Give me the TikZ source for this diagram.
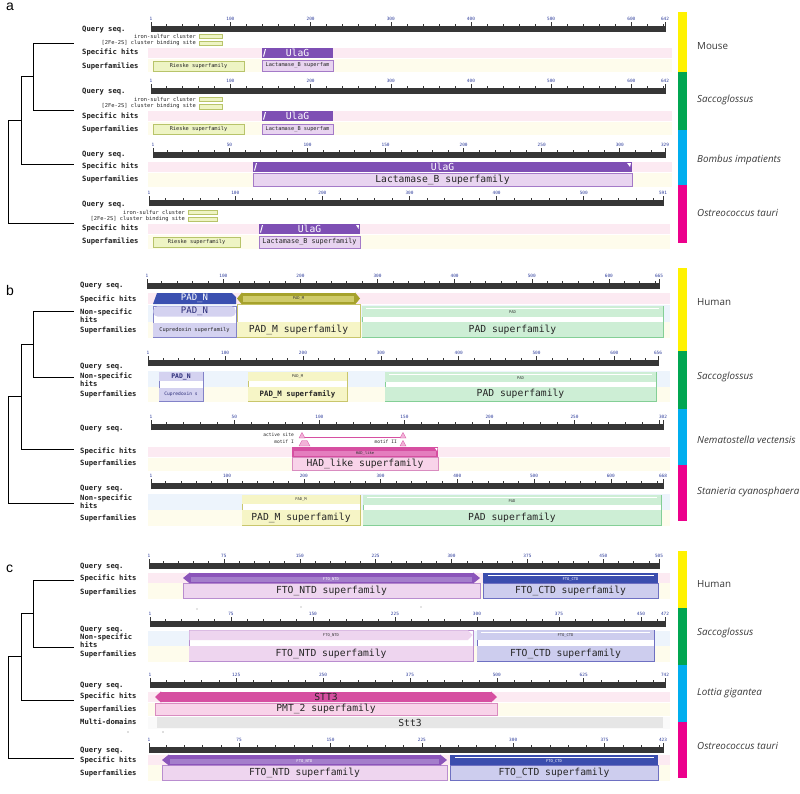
\documentclass[tikz,border=0pt]{standalone}
\usepackage{fontspec}
\setmainfont{Open Sans}
\newfontfamily\monof{DejaVu Sans Mono}
\newfontfamily\letf{Liberation Sans}
\usetikzlibrary{calc}
\newcommand{\mfs}[1]{\fontsize{#1}{#1}\selectfont}
\definecolor{rulerc}{HTML}{363636}
\definecolor{tickblue}{HTML}{2E3D9C}
\definecolor{spb}{HTML}{FCEAF2}
\definecolor{sfb}{HTML}{FEFCEC}
\definecolor{nsb}{HTML}{EDF4FC}
\definecolor{mdb}{HTML}{FAFAFA}
\definecolor{purp}{HTML}{7E4FB4}
\definecolor{purpL}{HTML}{E8D4F0}
\definecolor{purpD}{HTML}{A47AC8}
\definecolor{riesF}{HTML}{EEF4C4}
\definecolor{riesD}{HTML}{B8C46A}
\definecolor{padnB}{HTML}{3B50B0}
\definecolor{lavL}{HTML}{D4D2F0}
\definecolor{lavD}{HTML}{8282C8}
\definecolor{navyt}{HTML}{2A2C78}
\definecolor{oliv}{HTML}{A6A22C}
\definecolor{olivL}{HTML}{CFCB6A}
\definecolor{yelF}{HTML}{F6F5C6}
\definecolor{yelD}{HTML}{C9C66C}
\definecolor{grnF}{HTML}{CDEED5}
\definecolor{grnD}{HTML}{84CF96}
\definecolor{mag}{HTML}{D64FA1}
\definecolor{magM}{HTML}{E47DBE}
\definecolor{magL}{HTML}{F8D3E9}
\definecolor{magD}{HTML}{D98CC0}
\definecolor{ftoN}{HTML}{8B55BA}
\definecolor{ftoNM}{HTML}{A47ECB}
\definecolor{ftoNL}{HTML}{EED5EF}
\definecolor{ftoND}{HTML}{B98DCF}
\definecolor{ftoC}{HTML}{3B4DAE}
\definecolor{ftoCL}{HTML}{CDCDEE}
\definecolor{ftoCD}{HTML}{6E70C2}
\definecolor{grayF}{HTML}{E6E6E6}
\definecolor{pinkT}{HTML}{F2B2D8}
\definecolor{cYel}{HTML}{FFF200}
\definecolor{cGrn}{HTML}{00A651}
\definecolor{cBlu}{HTML}{00AEEF}
\definecolor{cMag}{HTML}{EC008C}
\tikzset{
  rowlab/.style={font={\monof\bfseries\mfs{7.2}}, anchor=west, inner sep=0pt, text=black!88},
  annot/.style={font={\monof\mfs{5.4}}, anchor=east, inner sep=0pt, text=black!85},
  tinylab/.style={font={\monof\mfs{5.3}}, inner sep=0pt, text=black!85},
  midlab/.style={font={\monof\mfs{6.8}}, inner sep=0pt, text=black!85},
  biglab/.style={font={\monof\mfs{9.7}}, inner sep=0pt, text=black!85},
  biglabw/.style={font={\monof\mfs{9.7}}, inner sep=0pt, text=white},
  microlab/.style={font={\monof\mfs{3.8}}, inner sep=0pt, text=black!80},
  microlabw/.style={font={\monof\mfs{3.8}}, inner sep=0pt, text=white},
  numlab/.style={font={\monof\mfs{4.4}}, text=tickblue, inner sep=0pt, anchor=south},
  species/.style={font={\mfs{9.8}}, anchor=west, inner sep=0pt, text=black!78},
  panellab/.style={font={\letf\mfs{14}}, anchor=north west, inner sep=0pt},
  treeln/.style={line width=0.9pt, black},
  mk/.style={fill=riesF, draw=riesD, line width=0.4pt},
  tri/.style={fill=pinkT, draw=mag, line width=0.3pt}
}
% ruler: y, x0, x1, len, minor step, name
\newcommand{\qruler}[6]{%
  \pgfmathsetmacro{\qrS}{(#3-#2)/(#4-1)}%
  \fill[rulerc] (#2,#1) rectangle (#3,#1+6);
  \draw[rulerc, line width=0.5pt] (#2,#1+6) -- (#2,#1-4.5);
  \node[numlab] at (#2,#1-5) {1};
  \pgfmathtruncatemacro{\qrN}{(#4-1)/#5}%
  \foreach \k in {1,...,\qrN}{%
    \pgfmathsetmacro{\qrX}{#2+(\k*#5-1)*\qrS}%
    \pgfmathtruncatemacro{\qrM}{mod(\k,5)}%
    \pgfmathtruncatemacro{\qrV}{\k*#5}%
    \pgfmathtruncatemacro{\qrF}{(#3-\qrX)<14}%
    \ifnum\qrM=0
      \draw[rulerc, line width=0.5pt] (\qrX,#1) -- (\qrX,#1-4.5);
      \ifnum\qrF=0 \node[numlab] at (\qrX,#1-5) {\qrV};\fi
    \else
      \draw[rulerc, line width=0.45pt] (\qrX,#1) -- (\qrX,#1-2.2);
    \fi
  }
  \draw[rulerc, line width=0.5pt] (#3,#1+6) -- (#3,#1-4.5);
  \node[numlab] (#6) at (#3,#1-5) {#4};
}
% box with label: name, x1,y1,x2,y2, box style, label style, text
\newcommand{\cbox}[8]{%
  \path[#6] (#2,#3) rectangle (#4,#5);
  \node[#7] (#1) at ({(#2+#4)/2},{(#3+#5)/2}) {#8};
}
% double arrow: x1,y1,x2,y2,colour,head
\newcommand{\darr}[6]{%
  \fill[#5] (#1,{(#2+#4)/2}) -- (#1+#6,#2-0.6) -- (#1+#6,#2) -- (#3-#6,#2) -- (#3-#6,#2-0.6) -- (#3,{(#2+#4)/2}) -- (#3-#6,#4+0.6) -- (#3-#6,#4) -- (#1+#6,#4) -- (#1+#6,#4+0.6) -- cycle;
}
\begin{document}
\begin{tikzpicture}[x=1pt,y=-1pt]
\useasboundingbox (0,0) rectangle (800,793);
\fill[white] (0,0) rectangle (800,793);

% ---------------- panel letters
\node[panellab] (pa) at (6,3) {a};
\node[panellab] (pb) at (6,285) {b};
\node[panellab] (pc) at (6,565) {c};

% ================= PANEL A
% --- Mouse
\fill[spb] (148,48) rectangle (672,57.5);
\fill[sfb] (148,58.5) rectangle (672,72);
\qruler{26}{151}{665}{642}{20}{rulA1}
\node[rowlab] (qA1) at (82,30) {Query seq.};
\node[rowlab] (sA1) at (82,52.5) {Specific hits};
\node[rowlab] (fA1) at (82,66) {Superfamilies};
\node[annot] (feA1) at (196,36) {iron-sulfur cluster};
\node[annot] (fsA1) at (196,43) {[2Fe-2S] cluster binding site};
\draw[mk] (199,34) rectangle (222,38.5);
\draw[mk] (199,41) rectangle (222,45.5);
\cbox{ulA1}{262}{48}{333}{57.5}{fill=purp}{biglabw}{UlaG}
\fill[white] (263,56.5) -- (265,49) -- (266,49) -- (264,56.5) -- cycle;
\cbox{laA1}{262}{60}{333}{71}{fill=purpL,draw=purpD,line width=0.6pt}{tinylab}{Lactamase\_B superfam}
\cbox{riA1}{153}{61}{244}{71}{fill=riesF,draw=riesD,line width=0.6pt}{tinylab}{Rieske superfamily}

% --- Saccoglossus (a)
\fill[spb] (148,111) rectangle (672,120.5);
\fill[sfb] (148,121.5) rectangle (672,135);
\qruler{88}{151}{665}{642}{20}{rulA2}
\node[rowlab] (qA2) at (82,92) {Query seq.};
\node[rowlab] (sA2) at (82,116) {Specific hits};
\node[rowlab] (fA2) at (82,129) {Superfamilies};
\node[annot] (feA2) at (196,99) {iron-sulfur cluster};
\node[annot] (fsA2) at (196,106.5) {[2Fe-2S] cluster binding site};
\draw[mk] (199,97) rectangle (222,101.5);
\draw[mk] (199,104.5) rectangle (222,109);
\cbox{ulA2}{262}{111}{333}{120.5}{fill=purp}{biglabw}{UlaG}
\fill[white] (263,119.5) -- (265,112) -- (266,112) -- (264,119.5) -- cycle;
\cbox{laA2}{262}{124}{333}{134}{fill=purpL,draw=purpD,line width=0.6pt}{tinylab}{Lactamase\_B superfam}
\cbox{riA2}{153}{124}{244}{134}{fill=riesF,draw=riesD,line width=0.6pt}{tinylab}{Rieske superfamily}

% --- Bombus
\fill[spb] (148,162) rectangle (672,171.5);
\fill[sfb] (148,172.5) rectangle (672,187);
\qruler{152}{153}{665}{329}{10}{rulA3}
\node[rowlab] (qA3) at (82,155) {Query seq.};
\node[rowlab] (sA3) at (82,166.5) {Specific hits};
\node[rowlab] (fA3) at (82,179) {Superfamilies};
\cbox{ulA3}{253}{162}{632}{171.5}{fill=purp}{biglabw}{UlaG}
\fill[white] (254,170.5) -- (256,163) -- (257,163) -- (255,170.5) -- cycle;
\fill[white] (627,163) -- (631,163) -- (630,167) -- cycle;
\cbox{laA3}{253}{173.5}{632}{186}{fill=purpL,draw=purpD,line width=0.6pt}{biglab}{Lactamase\_B superfamily}

% --- Ostreococcus (a)
\fill[spb] (148,224) rectangle (670,233.5);
\fill[sfb] (148,234.5) rectangle (670,249);
\qruler{200}{149}{663}{591}{20}{rulA4}
\node[rowlab] (qA4) at (82,205) {Query seq.};
\node[rowlab] (sA4) at (82,228.5) {Specific hits};
\node[rowlab] (fA4) at (82,241.5) {Superfamilies};
\node[annot] (feA4) at (185,212) {iron-sulfur cluster};
\node[annot] (fsA4) at (185,219) {[2Fe-2S] cluster binding site};
\draw[mk] (188,210) rectangle (217,214.5);
\draw[mk] (188,217) rectangle (217,221.5);
\cbox{ulA4}{259}{224}{360}{233.5}{fill=purp}{biglabw}{UlaG}
\fill[white] (260,232.5) -- (262,225) -- (263,225) -- (261,232.5) -- cycle;
\fill[white] (356,225) -- (359,225) -- (358.5,229) -- cycle;
\cbox{laA4}{259}{236}{360}{248}{fill=purpL,draw=purpD,line width=0.6pt}{midlab}{Lactamase\_B superfamily}
\cbox{riA4}{153}{237}{240}{247}{fill=riesF,draw=riesD,line width=0.6pt}{tinylab}{Rieske superfamily}

% ================= PANEL B
% --- Human (b)
\fill[spb] (148,293) rectangle (670,304);
\fill[nsb] (148,305) rectangle (670,322);
\fill[sfb] (148,322) rectangle (670,338);
\qruler{283}{147}{659}{665}{20}{rulB1}
\node[rowlab] (qB1) at (80,285.5) {Query seq.};
\node[rowlab] (sB1) at (80,299) {Specific hits};
\node[rowlab] (nB1) at (80,312) {Non-specific};
\node[rowlab] (hB1) at (80,319.5) {hits};
\node[rowlab] (fB1) at (80,330.5) {Superfamilies};
% cupredoxin column
\path[fill=white, draw=lavD, line width=0.6pt] (153,306) rectangle (236,337);
\fill[lavL] (153.4,323) rectangle (235.6,336.6);
\node[tinylab] (cuB1) at (194.5,330) {Cupredoxin superfamily};
\fill[lavL, rounded corners=4pt] (153.4,316.5) -- (153.4,306.4) -- (235.6,306.4) -- (235.6,316.5) -- cycle;
\node[font={\monof\mfs{9}}, inner sep=0pt, text=navyt] (pnB1) at (194.5,311.5) {PAD\_N};
\fill[padnB] (153,304) -- (157,293) -- (232,293) -- (236,297) -- (236,304) -- cycle;
\node[font={\monof\mfs{9}}, inner sep=0pt, text=white] (psB1) at (194.5,298.5) {PAD\_N};
% PAD_M column
\path[fill=white, draw=yelD, line width=0.6pt] (237,304) rectangle (360,337);
\fill[yelF] (237.4,322) rectangle (359.6,336.6);
\node[biglab] (pmsB1) at (298.5,329.5) {PAD\_M superfamily};
\darr{237}{293}{360}{304}{oliv}{5}
\fill[olivL] (243,296) rectangle (354,301.5);
\node[microlab] (pmB1) at (298.5,298.7) {PAD\_M};
% PAD column
\path[fill=white, draw=grnD, line width=0.6pt] (362,306) rectangle (663,337);
\fill[grnF] (362.4,306.4) rectangle (662.6,316.5);
\draw[white, line width=0.7pt] (366,308) -- (659,308);
\fill[grnF] (362.4,322) rectangle (662.6,336.6);
\node[microlab] (paB1) at (512.5,312.5) {PAD};
\node[biglab] (pasB1) at (512.5,329.5) {PAD superfamily};

% --- Saccoglossus (b)
\fill[nsb] (148,371) rectangle (670,387);
\fill[sfb] (148,387) rectangle (670,401.5);
\qruler{360}{148}{658}{656}{20}{rulB2}
\node[rowlab] (qB2) at (80,367) {Query seq.};
\node[rowlab] (nB2) at (80,376.5) {Non-specific};
\node[rowlab] (hB2) at (80,384) {hits};
\node[rowlab] (fB2) at (80,394.5) {Superfamilies};
\path[fill=white, draw=lavD, line width=0.6pt] (159,372) rectangle (203,401);
\fill[lavL] (159.4,372.4) rectangle (202.6,381);
\fill[lavL] (159.4,388) rectangle (202.6,400.6);
\node[font={\monof\bfseries\mfs{6.4}}, inner sep=0pt, text=navyt] (pnB2) at (181,376.7) {PAD\_N};
\node[font={\monof\mfs{4.6}}, inner sep=0pt, text=navyt] (cuB2) at (181,394.3) {Cupredoxin s};
\path[fill=white, draw=yelD, line width=0.6pt] (248,372) rectangle (347,401);
\fill[yelF] (248.4,372.4) rectangle (346.6,380.5);
\fill[yelF] (248.4,386.5) rectangle (346.6,400.6);
\node[microlab] (pmB2) at (297.5,376.5) {PAD\_M};
\node[font={\monof\bfseries\mfs{7.4}}, inner sep=0pt, text=black!85] (pmsB2) at (297.5,394) {PAD\_M superfamily};
\path[fill=white, draw=grnD, line width=0.6pt] (385,372) rectangle (656,401);
\fill[grnF] (385.4,372.4) rectangle (655.6,381.5);
\draw[white, line width=0.7pt] (389,374) -- (652,374);
\fill[grnF] (385.4,386.5) rectangle (655.6,400.6);
\node[microlab] (paB2) at (520.5,378) {PAD};
\node[biglab] (pasB2) at (520.5,394) {PAD superfamily};

% --- Nematostella
\fill[spb] (148,447) rectangle (670,457);
\fill[sfb] (148,458) rectangle (670,471);
\qruler{424}{151}{663}{302}{10}{rulB3}
\node[rowlab] (qB3) at (80,428.5) {Query seq.};
\node[rowlab] (sB3) at (80,451.5) {Specific hits};
\node[rowlab] (fB3) at (80,463.5) {Superfamilies};
\node[annot, font={\monof\mfs{4.6}}] (asB3) at (294,435) {active site};
\node[annot, font={\monof\mfs{4.6}}] (m1B3) at (294,442.2) {motif I};
\node[annot, font={\monof\mfs{4.6}}] (m2B3) at (397,442.2) {motif II};
\draw[mag, line width=0.4pt] (302,437.5) -- (403,437.5);
\path[tri] (299,438) -- (302,432.5) -- (305,438) -- cycle;
\path[tri] (400,438) -- (403,432.5) -- (406,438) -- cycle;
\path[tri] (299,446) -- (302,440.5) -- (307,440.5) -- (310,446) -- cycle;
\path[tri] (400,446) -- (403,440.5) -- (406,446) -- cycle;
\fill[mag] (292,447) rectangle (438,457);
\fill[magM] (294,450.5) rectangle (436,455.5);
\fill[white] (435,448) -- (437.5,448) -- (437,451) -- cycle;
\node[microlab] (hdB3) at (365,453) {HAD\_like};
\cbox{hsB3}{292}{457.5}{438}{470}{fill=magL,draw=magD,line width=0.6pt}{biglab}{HAD\_like superfamily}

% --- Stanieria
\fill[nsb] (148,494) rectangle (670,510);
\fill[sfb] (148,510) rectangle (670,526);
\qruler{483}{151}{663}{668}{20}{rulB4}
\node[rowlab] (qB4) at (80,488.5) {Query seq.};
\node[rowlab] (nB4) at (80,498.5) {Non-specific};
\node[rowlab] (hB4) at (80,506) {hits};
\node[rowlab] (fB4) at (80,518) {Superfamilies};
\path[fill=white, draw=yelD, line width=0.6pt] (242,495) rectangle (360,525);
\fill[yelF] (242.4,495.4) rectangle (359.6,503.5);
\fill[yelF] (242.4,510) rectangle (359.6,524.6);
\node[microlab] (pmB4) at (301,499.5) {PAD\_M};
\node[biglab] (pmsB4) at (301,517.5) {PAD\_M superfamily};
\path[fill=white, draw=grnD, line width=0.6pt] (363,495) rectangle (661,525);
\fill[grnF] (363.4,495.4) rectangle (660.6,504.5);
\draw[white, line width=0.7pt] (367,497.3) -- (657,497.3);
\fill[grnF] (363.4,510) rectangle (660.6,524.6);
\node[microlab] (paB4) at (512,501) {PAD};
\node[biglab] (pasB4) at (512,517.5) {PAD superfamily};

% ================= PANEL C
% --- Human (c)
\fill[spb] (148,573) rectangle (670,583);
\fill[sfb] (148,583) rectangle (670,599);
\qruler{563}{149}{659}{505}{15}{rulC1}
\node[rowlab] (qC1) at (80,567) {Query seq.};
\node[rowlab] (sC1) at (80,578) {Specific hits};
\node[rowlab] (fC1) at (80,592) {Superfamilies};
\cbox{fnsC1}{183}{583.5}{480}{598}{fill=ftoNL,draw=ftoND,line width=0.6pt}{biglab}{FTO\_NTD superfamily}
\darr{183}{573}{480}{583}{ftoN}{7}
\fill[ftoNM] (191,577) rectangle (472,581.5);
\node[microlabw] (fnC1) at (331,579.2) {FTO\_NTD};
\cbox{fcsC1}{483}{583.5}{658}{598}{fill=ftoCL,draw=ftoCD,line width=0.6pt}{biglab}{FTO\_CTD superfamily}
\fill[ftoC] (483,573) rectangle (658,583);
\draw[white, line width=0.8pt] (488,575.3) -- (654,575.3);
\node[microlabw] (fcC1) at (570.5,579.3) {FTO\_CTD};

% --- Saccoglossus (c)
\fill[nsb] (148,631) rectangle (670,646);
\fill[sfb] (148,646) rectangle (670,662);
\qruler{621}{150}{665}{472}{15}{rulC2}
\fill[black!45] (197,609) circle (0.6);
\fill[black!45] (301,607) circle (0.6);
\fill[black!45] (421,607) circle (0.6);
\node[rowlab] (qC2) at (80,630) {Query seq.};
\node[rowlab] (nC2) at (80,637.5) {Non-specific};
\node[rowlab] (hC2) at (80,644.5) {hits};
\node[rowlab] (fC2) at (80,654.5) {Superfamilies};
\path[fill=white, draw=ftoND, line width=0.6pt] (189,630) rectangle (473,661);
\fill[ftoNL] (189.4,630.4) -- (468,630.4) -- (472.6,635) -- (468,640) -- (189.4,640) -- cycle;
\fill[ftoNL] (189.4,646) rectangle (472.6,660.6);
\node[microlab] (fnC2) at (331,635.3) {FTO\_NTD};
\node[biglab] (fnsC2) at (331,653.5) {FTO\_NTD superfamily};
\path[fill=white, draw=ftoCD, line width=0.6pt] (477,630) rectangle (654,661);
\fill[ftoCL] (477.4,630.4) rectangle (653.6,640);
\draw[white, line width=0.7pt] (481,632.3) -- (650,632.3);
\fill[ftoCL] (477.4,646) rectangle (653.6,660.6);
\node[microlab] (fcC2) at (565.5,635.8) {FTO\_CTD};
\node[biglab] (fcsC2) at (565.5,653.5) {FTO\_CTD superfamily};

% --- Lottia
\fill[spb] (148,692) rectangle (670,702);
\fill[sfb] (148,702.5) rectangle (670,716);
\fill[mdb] (148,716.5) rectangle (670,729);
\qruler{682}{150}{665}{742}{25}{rulC3}
\node[rowlab] (qC3) at (80,686) {Query seq.};
\node[rowlab] (sC3) at (80,696.5) {Specific hits};
\node[rowlab] (fC3) at (80,709) {Superfamilies};
\node[rowlab] (mC3) at (80,722) {Multi-domains};
\darr{155}{692}{497}{702}{mag}{6}
\node[biglab] (stC3) at (326,697) {STT3};
\cbox{pmC3}{155}{703}{497}{715}{fill=magL,draw=magD,line width=0.6pt}{biglab}{PMT\_2 superfamily}
\cbox{mdC3}{157}{717}{663}{728}{fill=grayF}{biglab}{Stt3}
\fill[black!55] (128,732) circle (0.6);
\fill[black!55] (163,732) circle (0.6);

% --- Ostreococcus (c)
\fill[spb] (148,755) rectangle (670,765);
\fill[sfb] (148,765) rectangle (670,781);
\qruler{747}{149}{663}{423}{15}{rulC4}
\node[rowlab] (qC4) at (80,751) {Query seq.};
\node[rowlab] (sC4) at (80,760.5) {Specific hits};
\node[rowlab] (fC4) at (80,773.5) {Superfamilies};
\cbox{fnsC4}{162}{765.5}{447}{780}{fill=ftoNL,draw=ftoND,line width=0.6pt}{biglab}{FTO\_NTD superfamily}
\darr{162}{755}{447}{765}{ftoN}{7}
\fill[ftoNM] (170,759) rectangle (439,763.5);
\node[microlabw] (fnC4) at (304.5,761.2) {FTO\_NTD};
\cbox{fcsC4}{450}{765.5}{658}{780}{fill=ftoCL,draw=ftoCD,line width=0.6pt}{biglab}{FTO\_CTD superfamily}
\fill[ftoC] (450,755) rectangle (658,765);
\draw[white, line width=0.8pt] (455,757.3) -- (654,757.3);
\node[microlabw] (fcC4) at (554,761.3) {FTO\_CTD};

% ================= TREES
\coordinate (aT1) at (74,43);  \coordinate (aT2) at (74,110);
\coordinate (aT3) at (74,164); \coordinate (aT4) at (74,223);
\coordinate (aJ1) at (33,76.5); \coordinate (aJ2) at (21,120.25); \coordinate (aJ3) at (8,171.6);
\draw[treeln] (aJ1) |- (aT1); \draw[treeln] (aJ1) |- (aT2);
\draw[treeln] (aJ2) |- (aJ1); \draw[treeln] (aJ2) |- (aT3);
\draw[treeln] (aJ3) |- (aJ2); \draw[treeln] (aJ3) |- (aT4);

\coordinate (bT1) at (74,311);  \coordinate (bT2) at (74,377);
\coordinate (bT3) at (74,449);  \coordinate (bT4) at (74,503);
\coordinate (bJ1) at (33,344); \coordinate (bJ2) at (21,396.5); \coordinate (bJ3) at (8,449.7);
\draw[treeln] (bJ1) |- (bT1); \draw[treeln] (bJ1) |- (bT2);
\draw[treeln] (bJ2) |- (bJ1); \draw[treeln] (bJ2) |- (bT3);
\draw[treeln] (bJ3) |- (bJ2); \draw[treeln] (bJ3) |- (bT4);

\coordinate (cT1) at (74,580);  \coordinate (cT2) at (74,647);
\coordinate (cT3) at (74,700);  \coordinate (cT4) at (74,758);
\coordinate (cJ1) at (33,613.5); \coordinate (cJ2) at (21,656.75); \coordinate (cJ3) at (8,707.4);
\draw[treeln] (cJ1) |- (cT1); \draw[treeln] (cJ1) |- (cT2);
\draw[treeln] (cJ2) |- (cJ1); \draw[treeln] (cJ2) |- (cT3);
\draw[treeln] (cJ3) |- (cJ2); \draw[treeln] (cJ3) |- (cT4);

% ================= COLOUR BARS + SPECIES
\fill[cYel] (678,12) rectangle (687,72);
\fill[cGrn] (678,72) rectangle (687,130);
\fill[cBlu] (678,130) rectangle (687,185);
\fill[cMag] (678,185) rectangle (687,243);
\node[species] (spA1) at (697,46) {Mouse};
\node[species] (spA2) at (697,100) {\itshape Saccoglossus};
\node[species] (spA3) at (697,160) {\itshape Bombus impatients};
\node[species] (spA4) at (697,213) {\itshape Ostreococcus tauri};

\fill[cYel] (678,268) rectangle (687,351);
\fill[cGrn] (678,351) rectangle (687,409);
\fill[cBlu] (678,409) rectangle (687,465);
\fill[cMag] (678,465) rectangle (687,521);
\node[species] (spB1) at (697,302) {Human};
\node[species] (spB2) at (697,377) {\itshape Saccoglossus};
\node[species] (spB3) at (697,440) {\itshape Nematostella vectensis};
\node[species] (spB4) at (697,492) {\itshape Stanieria cyanosphaera};

\fill[cYel] (678,551) rectangle (687,608);
\fill[cGrn] (678,608) rectangle (687,665);
\fill[cBlu] (678,665) rectangle (687,722);
\fill[cMag] (678,722) rectangle (687,778);
\node[species] (spC1) at (697,584) {Human};
\node[species] (spC2) at (697,633) {\itshape Saccoglossus};
\node[species] (spC3) at (697,693) {\itshape Lottia gigantea};
\node[species] (spC4) at (697,746) {\itshape Ostreococcus tauri};
\end{tikzpicture}
\end{document}
